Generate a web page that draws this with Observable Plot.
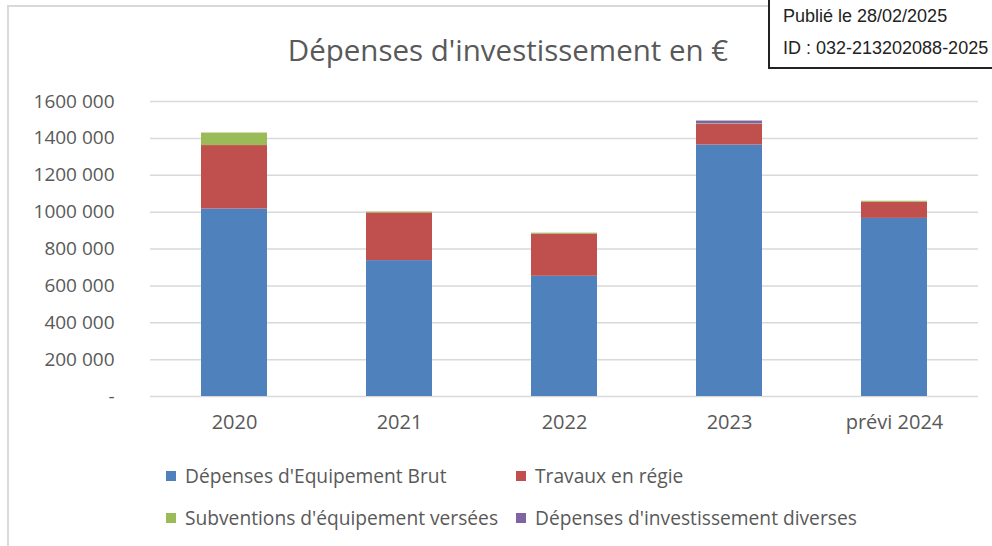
<!DOCTYPE html>
<html>
<head>
<meta charset="utf-8">
<script src="https://cdn.jsdelivr.net/npm/d3@7"></script>
<script src="https://cdn.jsdelivr.net/npm/@observablehq/plot@0.6"></script>
<style>
  html, body { margin: 0; padding: 0; background: #fff; }
  #wrap { position: relative; width: 992px; height: 546px; overflow: hidden; font-family: "Open Sans", Lato, sans-serif; color: #595959; }
  #frame { position: absolute; left: 7px; top: 5px; width: 1100px; height: 700px; border-left: 2px solid #d9d9d9; border-top: 2px solid #d9d9d9; }
  #title { position: absolute; left: 0; width: 1016px; top: 29px; text-align: center; font-size: 29.5px; color: #595959; }
  #chart { position: absolute; left: 0; top: 0; }
  #stamp { position: absolute; left: 768px; top: -4px; width: 260px; height: 69px; border: 2.5px solid #222; background: #fff; font-family: "Liberation Sans", Arial, sans-serif; font-size: 18px; color: #222; }
  #stamp div { position: absolute; left: 13px; white-space: nowrap; }
  .leg { position: absolute; font-size: 19.2px; white-space: nowrap; }
  .leg span.sw { display: inline-block; width: 10px; height: 10px; margin-right: 9px; vertical-align: 2px; }
</style>
</head>
<body>
<div id="wrap">
  <div id="frame"></div>
  <div id="chart"></div>
  <div id="title">Dépenses d'investissement en €</div>
  <div id="legend"></div>
  <div id="stamp"><div style="top:8px">Publié le 28/02/2025</div><div style="top:40px">ID : 032-213202088-2025</div></div>
</div>
<script>
const categories = ["2020", "2021", "2022", "2023", "prévi 2024"];
const seriesNames = ["Dépenses d'Equipement Brut", "Travaux en régie", "Subventions d'équipement versées", "Dépenses d'investissement diverses"];
const seriesColors = ["#4f81bd", "#c0504d", "#9bbb59", "#8064a2"];
const equipementBrut = [1017000, 737000, 652000, 1364000, 966000];
const travauxRegie = [344000, 258000, 229000, 112000, 88000];
const subventions = [68000, 5000, 5000, 3000, 5000];
const diverses = [0, 0, 0, 15000, 0];
const yTicks = [0, 200000, 400000, 600000, 800000, 1000000, 1200000, 1400000, 1600000];
const yTickLabels = ["-", "200 000", "400 000", "600 000", "800 000", "1000 000", "1200 000", "1400 000", "1600 000"];

const seriesValues = [equipementBrut, travauxRegie, subventions, diverses];
const data = seriesValues.flatMap((vals, si) => vals.map((v, ci) => ({category: categories[ci], series: seriesNames[si], value: v})));

const chart = Plot.plot({
  width: 992,
  height: 440,
  marginTop: 101,
  marginBottom: 44,
  marginLeft: 150,
  marginRight: 14,
  style: {fontFamily: "'Open Sans', Lato, sans-serif", fontSize: "17px", color: "#595959", background: "transparent"},
  x: {domain: categories, paddingInner: 0.6, paddingOuter: 0.3, label: null},
  y: {domain: [0, 1600000], label: null},
  color: {domain: seriesNames, range: seriesColors},
  marks: [
    Plot.ruleY(yTicks, {stroke: "#d9d9d9", strokeWidth: 1.5, strokeOpacity: 1}),
    Plot.barY(data, Plot.stackY({order: seriesNames, x: "category", y: "value", fill: "series"})),
    Plot.axisY({ticks: yTicks, tickFormat: (d) => yTickLabels[yTicks.indexOf(d)], tickSize: 0, tickPadding: 36, fill: "#595959", fontSize: 19}),
    Plot.axisX({tickSize: 0, tickPadding: 18, fill: "#595959", fontSize: 20})
  ]
});
document.getElementById("chart").appendChild(chart);

const legendPos = [[166, 462], [516, 462], [166, 504], [516, 504]];
const legend = document.getElementById("legend");
seriesNames.forEach((name, i) => {
  const d = document.createElement("div");
  d.className = "leg";
  d.style.left = legendPos[i][0] + "px";
  d.style.top = legendPos[i][1] + "px";
  d.innerHTML = `<span class="sw" style="background:${seriesColors[i]}"></span>${name}`;
  legend.appendChild(d);
});
</script>
</body>
</html>
